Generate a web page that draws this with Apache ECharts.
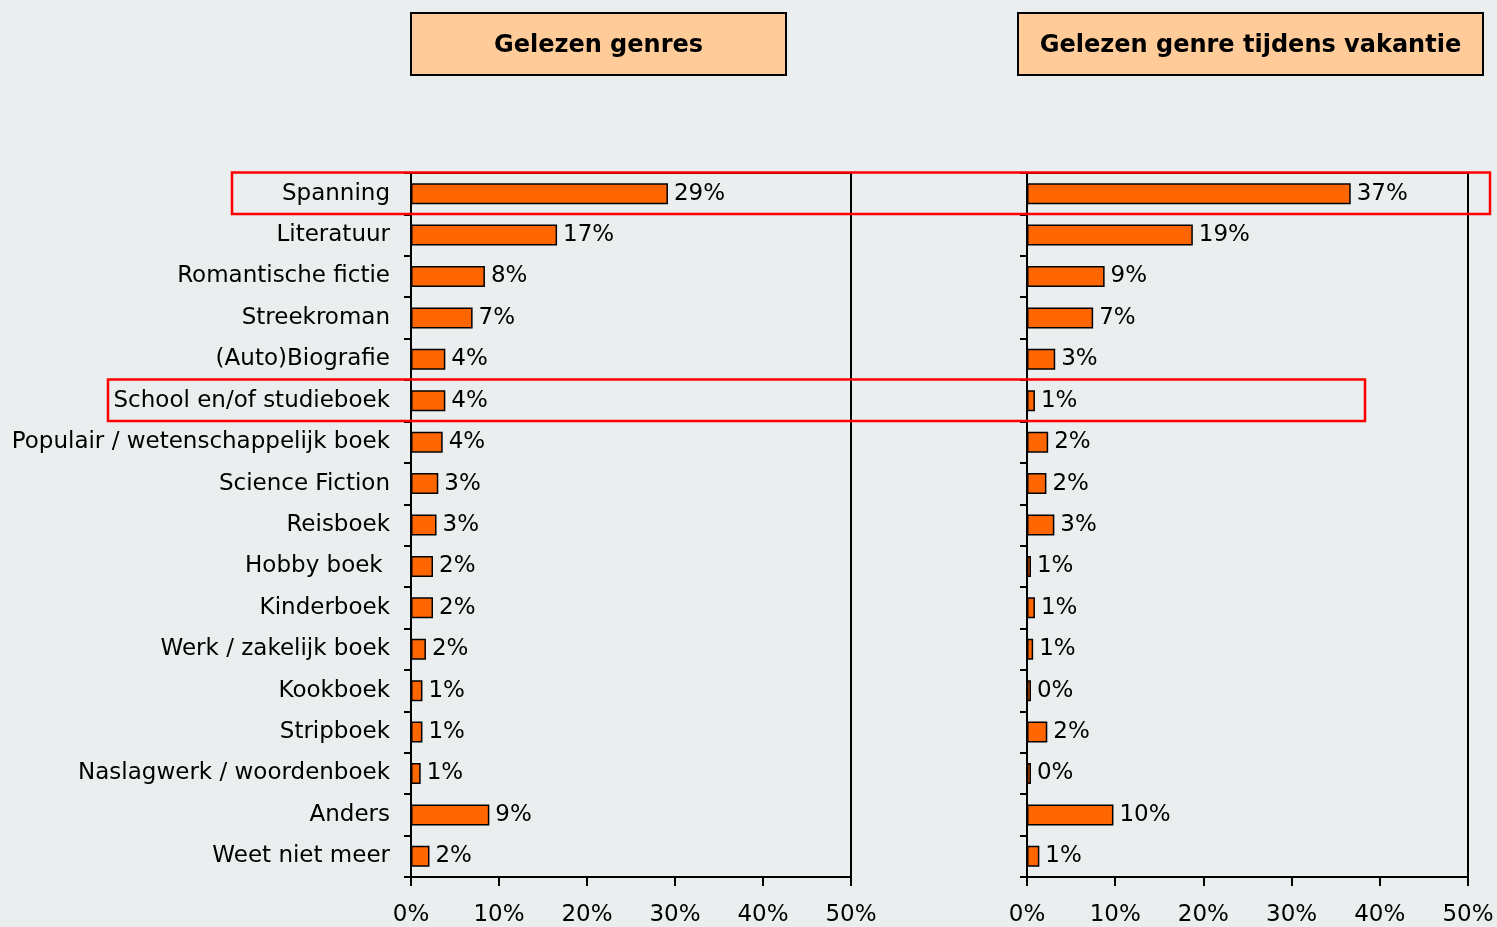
<!DOCTYPE html>
<html>
<head>
<meta charset="utf-8">
<script src="https://cdn.jsdelivr.net/npm/echarts@6/dist/echarts.min.js"></script>
<style>
    html, body { margin: 0; padding: 0; background: #eaeeee; }
    #chart { width: 1497px; height: 927px; }
</style>
</head>
<body>
<div id="chart"></div>
<script>
const categories = [
    "Spanning", "Literatuur", "Romantische fictie", "Streekroman", "(Auto)Biografie",
    "School en/of studieboek", "Populair / wetenschappelijk boek", "Science Fiction",
    "Reisboek", "Hobby boek ", "Kinderboek", "Werk / zakelijk boek", "Kookboek",
    "Stripboek", "Naslagwerk / woordenboek", "Anders", "Weet niet meer"
];

// bar lengths
const genresValues = [29.2, 16.6, 8.4, 7.0, 3.9, 3.9, 3.6, 3.1, 2.9, 2.5, 2.5, 1.7, 1.3, 1.3, 1.1, 8.9, 2.1];
const vakantieValues = [36.7, 18.8, 8.8, 7.5, 3.2, 0.9, 2.4, 2.2, 3.1, 0.45, 0.9, 0.7, 0.45, 2.3, 0.45, 9.8, 1.4];

// labels as printed next to the bars
const genresLabels = [29, 17, 8, 7, 4, 4, 4, 3, 3, 2, 2, 2, 1, 1, 1, 9, 2];
const vakantieLabels = [37, 19, 9, 7, 3, 1, 2, 2, 3, 1, 1, 1, 0, 2, 0, 10, 1];

const xTicks = { min: 0, max: 50, interval: 10 };

const titles = ["Gelezen genres", "Gelezen genre tijdens vakantie"];
const highlighted = ["Spanning", "School en/of studieboek"];

const font = "DejaVu Sans";

let myChart = echarts.init(document.getElementById("chart"));

function xAxisFor(gridIndex) {
    return {
        gridIndex: gridIndex,
        type: "value",
        min: xTicks.min,
        max: xTicks.max,
        interval: xTicks.interval,
        splitLine: { show: false },
        axisLine: { show: true, lineStyle: { color: "#000", width: 2 } },
        axisTick: { show: true, length: 9, lineStyle: { color: "#000", width: 2 } },
        axisLabel: {
            formatter: "{value}%",
            color: "#000",
            fontFamily: font,
            fontSize: 23,
            margin: 27
        }
    };
}

function yAxisFor(gridIndex, showLabels) {
    return {
        gridIndex: gridIndex,
        type: "category",
        inverse: true,
        data: categories,
        axisLine: { show: true, lineStyle: { color: "#000", width: 2 } },
        axisTick: { show: true, length: 7, lineStyle: { color: "#000", width: 2 } },
        axisLabel: {
            show: showLabels,
            color: "#000",
            fontFamily: font,
            fontSize: 23,
            margin: 21
        }
    };
}

function seriesFor(index, values, labels) {
    return {
        type: "bar",
        xAxisIndex: index,
        yAxisIndex: index,
        barWidth: 21,
        data: values,
        itemStyle: { color: "#ff6600", borderColor: "#000", borderWidth: 1.5 },
        label: {
            show: true,
            position: "right",
            distance: 6,
            color: "#000",
            fontFamily: font,
            fontSize: 23,
            formatter: p => labels[p.dataIndex] + "%"
        },
        silent: true
    };
}

function titleBox(left, width, text) {
    return {
        type: "group",
        left: left,
        top: 12,
        children: [
            {
                type: "rect",
                shape: { x: 0, y: 0, width: width, height: 62 },
                style: { fill: "#ffcc99", stroke: "#000", lineWidth: 2 }
            },
            {
                type: "text",
                x: width / 2,
                y: 33,
                style: {
                    text: text,
                    fill: "#000",
                    font: "bold 24px '" + font + "'",
                    textAlign: "center",
                    textVerticalAlign: "middle"
                }
            }
        ]
    };
}

let option = {
    backgroundColor: "#eaeeee",
    animation: false,
    grid: [
        { left: 411, right: 646, top: 173, bottom: 50, show: true, borderColor: "#000", borderWidth: 2 },
        { left: 1027, right: 29, top: 173, bottom: 50, show: true, borderColor: "#000", borderWidth: 2 }
    ],
    xAxis: [xAxisFor(0), xAxisFor(1)],
    yAxis: [yAxisFor(0, true), yAxisFor(1, false)],
    series: [
        seriesFor(0, genresValues, genresLabels),
        seriesFor(1, vakantieValues, vakantieLabels)
    ]
};

myChart.setOption(option);

// red highlight boxes around the marked rows, placed from the category scale
const band = (876.7 - 173.3) / categories.length;
const boxSpans = [[232, 1490], [108, 1365]];
const redBoxes = highlighted.map((name, i) => {
    const cy = myChart.convertToPixel({ yAxisIndex: 0 }, name);
    return {
        type: "rect",
        shape: {
            x: boxSpans[i][0],
            y: cy - band / 2 - 0.5,
            width: boxSpans[i][1] - boxSpans[i][0],
            height: band
        },
        style: { fill: "none", stroke: "#ff0000", lineWidth: 2.5 },
        z: 100
    };
});

myChart.setOption({
    graphic: [
        titleBox(410, 375, titles[0]),
        titleBox(1017, 465, titles[1])
    ].concat(redBoxes)
});
</script>
</body>
</html>
